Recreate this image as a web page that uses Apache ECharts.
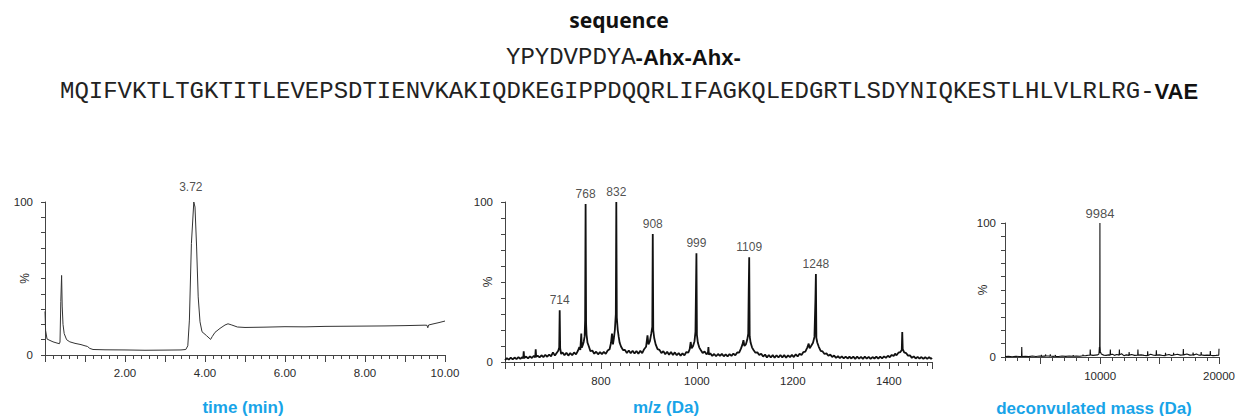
<!DOCTYPE html>
<html>
<head>
<meta charset="utf-8">
<script src="https://cdn.jsdelivr.net/npm/echarts@6/dist/echarts.min.js"></script>
<style>
html,body{margin:0;padding:0;background:#fff;}
#chart{width:1238px;height:416px;}
</style>
</head>
<body>
<div id="chart"></div>
<script>
// ---------- text ----------
const headerTitle = 'sequence';
const tagMono = 'YPYDVPDYA';
const tagBold = '-Ahx-Ahx-';
const mainMono = 'MQIFVKTLTGKTITLEVEPSDTIENVKAKIQDKEGIPPDQQRLIFAGKQLEDGRTLSDYNIQKESTLHLVLRLRG-';
const mainBold = 'VAE';
const axisTitles = ['time (min)', 'm/z (Da)', 'deconvulated mass (Da)'];
const yAxisName = '%';

// ---------- chromatogram (time in min, % intensity) ----------
const chromTime = [0.00,0.015,0.05,0.10,0.20,0.30,0.36,0.375,0.395,0.415,0.43,0.45,0.48,0.54,0.62,0.75,0.90,1.00,1.06,1.12,
  1.20,1.50,2.00,2.50,3.00,3.40,3.52,3.57,3.61,3.66,3.72,3.75,3.79,3.83,3.875,3.925,4.04,4.14,4.18,4.25,
  4.375,4.50,4.575,4.67,4.81,5.00,5.50,6.00,6.50,7.00,7.50,8.00,8.50,9.00,9.50,9.55,9.57,9.59,9.70,9.85,10.00];
const chromPct = [28.5,16,10.5,9.8,8.6,7.8,7.4,8.5,35,52,32,20,14,10,8.6,7.6,6.8,6.0,5.6,4.3,
  3.6,3.4,3.3,3.1,3.2,3.3,3.6,6,22.8,72.8,100,96.7,70.6,38,21.7,15.2,12.6,10.2,12,14.8,
  17.4,19.6,20.4,19.6,18.3,18.0,18.2,18.5,18.4,18.7,18.8,18.9,19.0,19.2,19.5,19.4,17.8,19.6,20.3,21.2,22.2];
const chromPeakTime = [3.72];
const chromPeakPct = [100];
const chromPeakLabel = ['3.72'];

// ---------- ESI mass spectrum [m/z, %] ----------
const msSpectrum = [
  [600,1.2],[604,2.4],[608,1.5],[612,2.7],[616,1.6],[620,2.8],[624,1.8],[628,3.0],[632,2.0],[636,3.1],
  [638,2.2],[639,6.7],[640,2.4],[644,3.4],[648,2.2],[652,3.5],[656,2.5],[660,3.8],[663,2.8],[664,8.0],
  [665,3.2],[668,4.0],[672,2.9],[676,4.2],[680,3.1],[684,4.4],[688,3.3],[692,4.6],[696,3.6],[700,6.0],
  [704,4.0],[708,5.8],[711,7.0],[713,9.0],[714,32.4],[715,8.5],[717,5.0],[720,6.0],[724,4.2],[728,5.8],
  [732,4.0],[736,5.6],[740,4.2],[744,6.0],[748,4.8],[752,7.0],[755,9.4],[757,7.5],[759,17.8],[760,9.0],
  [762,10.5],[764,12.5],[766,16.0],[767,26.0],[768,98.7],[769,24.0],[770,17.0],[772,12.0],[775,9.5],[778,6.8],
  [782,7.2],[786,5.2],[790,6.4],[794,4.8],[798,6.2],[802,4.9],[806,6.3],[810,5.1],[814,7.2],[818,8.0],
  [821,12.0],[823,17.8],[825,11.0],[827,15.0],[829,20.0],[831,30.0],[832,100],[833,28.0],[835,20.0],[837,15.7],
  [839,12.0],[842,9.5],[846,7.5],[850,7.6],[854,5.6],[858,7.2],[862,5.5],[866,7.0],[870,5.3],[874,6.9],
  [878,5.2],[882,7.0],[886,5.6],[890,8.0],[894,9.5],[897,16.7],[899,11.0],[902,13.0],[905,18.0],[907,22.0],
  [908,80.0],[909,20.0],[911,15.0],[914,11.0],[918,8.0],[922,7.6],[926,5.6],[930,6.8],[934,4.8],[938,6.4],
  [942,4.6],[946,6.2],[950,4.4],[954,6.0],[958,4.2],[962,5.6],[966,4.0],[970,5.4],[974,4.2],[978,6.2],
  [982,5.8],[985,8.0],[987,12.5],[989,8.5],[992,10.0],[995,13.0],[997,18.8],[999,68.0],[1000,17.0],[1002,12.0],
  [1005,9.0],[1008,7.5],[1012,5.6],[1016,6.6],[1020,4.8],[1023,5.8],[1024,9.4],[1025,4.6],[1028,5.4],[1032,3.8],
  [1036,5.0],[1040,3.6],[1044,5.0],[1048,3.8],[1052,5.1],[1056,3.6],[1060,4.8],[1064,3.5],[1068,4.9],[1072,3.8],
  [1076,5.2],[1080,4.2],[1084,6.0],[1088,5.8],[1092,8.5],[1095,11.0],[1097,13.6],[1099,10.0],[1102,11.0],[1105,14.0],
  [1107,17.8],[1108,45.0],[1109,65.5],[1110,16.0],[1112,12.0],[1115,9.0],[1118,7.5],[1122,5.8],[1126,6.0],[1130,4.4],
  [1134,5.2],[1138,3.4],[1142,4.6],[1146,2.9],[1150,4.4],[1154,2.8],[1158,4.3],[1162,2.7],[1166,4.2],[1170,2.8],
  [1174,4.4],[1178,2.9],[1182,4.3],[1186,2.7],[1190,4.2],[1194,3.0],[1198,4.4],[1202,3.1],[1206,4.8],[1210,3.5],
  [1214,5.2],[1218,4.4],[1222,6.2],[1226,6.5],[1230,9.0],[1233,11.5],[1235,8.5],[1238,10.0],[1242,12.0],[1245,15.7],
  [1247,38.7],[1248,55.0],[1249,15.0],[1251,12.0],[1254,9.5],[1258,7.0],[1262,6.6],[1266,5.0],[1270,5.4],[1274,3.9],
  [1278,4.6],[1282,3.2],[1286,4.0],[1290,2.6],[1294,3.6],[1298,2.4],[1302,3.5],[1306,2.3],[1310,3.4],[1314,2.2],
  [1318,3.3],[1322,2.2],[1326,3.4],[1330,2.0],[1334,3.3],[1338,2.1],[1342,3.2],[1346,2.0],[1350,3.3],[1354,2.1],
  [1358,3.2],[1362,2.0],[1366,3.1],[1370,2.2],[1374,3.3],[1378,2.1],[1382,3.4],[1386,2.3],[1390,3.5],[1394,2.6],
  [1398,3.9],[1402,3.0],[1406,4.4],[1410,3.8],[1413,5.2],[1416,4.2],[1420,5.8],[1424,6.2],[1427,7.5],[1428,18.8],
  [1429,8.0],[1432,6.0],[1436,5.6],[1440,4.0],[1444,4.2],[1448,2.6],[1452,3.5],[1456,2.2],[1460,3.2],[1464,2.1],
  [1468,3.1],[1472,2.0],[1476,3.0],[1480,1.9],[1484,3.0],[1488,2.0],[1490,2.6]
];
const msPeakMz = [714, 768, 832, 908, 999, 1109, 1248];
const msPeakPct = [32.4, 98.7, 100, 80, 68, 65.5, 55];

// ---------- deconvoluted spectrum [mass, %] ----------
const deconvSpectrum = [
  [2000,0.3],[2300,0.5],[2600,0.2],[2900,0.6],[3200,0.4],[3390,0.5],[3410,7.5],[3430,0.4],[3700,0.6],[4000,0.3],
  [4300,0.7],[4600,0.4],[4900,0.8],[5040,0.5],[5060,1.6],[5080,0.5],[5300,0.7],[5390,0.6],[5410,1.9],[5430,0.7],
  [5650,0.8],[5790,0.6],[5810,2.0],[5830,0.7],[6050,0.5],[6220,0.7],[6240,1.5],[6260,0.5],[6500,0.4],[6800,0.7],
  [7100,0.5],[7400,0.8],[7720,0.6],[7740,1.4],[7760,0.6],[8000,0.8],[8300,0.6],[8540,0.9],[8560,1.7],[8580,0.9],
  [8800,1.0],[9000,1.3],[9150,1.4],[9170,5.5],[9190,1.6],[9400,1.2],[9600,1.4],[9800,1.6],[9900,2.2],[9940,7.5],
  [9960,3.0],[9975,30.5],[9984,100],[9995,8.0],[10020,4.0],[10100,2.2],[10300,1.4],[10500,1.2],[10700,1.6],[10840,1.4],
  [10860,5.5],[10880,1.8],[11050,2.0],[11200,1.2],[11400,1.8],[11600,1.4],[11620,5.5],[11640,1.6],[11800,2.4],[12000,1.0],
  [12200,1.6],[12420,1.2],[12440,3.7],[12460,1.4],[12650,1.8],[12900,1.2],[13160,1.3],[13180,5.5],[13200,1.4],[13450,1.6],
  [13700,1.2],[13980,1.0],[14000,4.2],[14020,1.2],[14250,2.0],[14500,1.3],[14710,1.2],[14730,5.0],[14750,1.4],[15000,1.6],
  [15250,1.1],[15480,1.0],[15500,3.2],[15520,1.3],[15800,1.9],[16000,1.2],[16160,1.3],[16180,3.2],[16200,1.5],[16500,2.0],
  [16750,1.4],[16980,1.5],[17000,6.0],[17020,1.6],[17300,2.2],[17550,1.4],[17800,1.5],[17820,3.3],[17840,1.4],[18100,2.3],
  [18300,1.4],[18480,1.3],[18500,3.7],[18520,1.6],[18750,1.2],[19000,1.4],[19250,1.2],[19270,4.5],[19290,1.3],[19500,1.0],
  [19750,1.2],[19980,1.4],[20000,6.2]
];
const deconvPeakMass = [9984];
const deconvPeakPct = [100];

// ---------- tick label sets ----------
const chromTickLabels = [2, 4, 6, 8, 10];
const msTickLabels = [800, 1000, 1200, 1400];
const deconvTickLabels = [10000, 20000];
const deconvMajorTicks = [5000, 10000, 15000, 20000];
const pctTickLabels = [0, 100];

// ---------- chart ----------
const AX = '#444';
const LBL = '#2a2a2a';
const BLUE = '#18a4e8';
const FONT = '"Liberation Sans", Arial, sans-serif';

function yAxisFor(gridIndex, nameGap, margin) {
  return {
    type: 'value', gridIndex: gridIndex, min: 0, max: 100, interval: 10,
    name: yAxisName, nameLocation: 'middle', nameGap: nameGap, nameRotate: 90, nameMoveOverlap: false,
    nameTextStyle: { color: LBL, fontSize: 12, fontFamily: FONT },
    axisLine: { show: true, lineStyle: { color: AX, width: 1 } },
    axisTick: { show: true, length: 4, lineStyle: { color: AX } },
    splitLine: { show: false },
    axisLabel: { color: LBL, fontSize: 11.5, fontFamily: FONT, margin: margin,
      formatter: v => pctTickLabels.includes(v) ? String(v) : '' }
  };
}

const labelStyle = { show: true, position: 'top', color: '#222', fontSize: 12, fontFamily: FONT };
const monoStyle = { fontFamily: '"Liberation Mono", monospace', fontWeight: 'normal', fontSize: 24, color: '#222', verticalAlign: 'middle' };
const boldStyle = { fontFamily: FONT, fontWeight: 'bold', fontSize: 22, color: '#111', verticalAlign: 'middle' };

const option = {
  animation: false,
  backgroundColor: '#fff',
  title: [
    { text: headerTitle, left: 'center', top: 9, padding: 0,
      textStyle: { fontFamily: '"Noto Sans", sans-serif', fontWeight: 'bold', fontSize: 21, color: '#111' } },
    { text: '{m|' + tagMono + '}{b|' + tagBold + '}', left: 506, top: 45, padding: 0,
      textStyle: { fontWeight: 'normal', rich: { m: monoStyle, b: boldStyle } } },
    { text: '{m|' + mainMono + '}{b|' + mainBold + '}', left: 60, top: 79, padding: 0,
      textStyle: { fontWeight: 'normal', rich: { m: monoStyle, b: boldStyle } } }
  ],
  graphic: [
    { type: 'text', x: 243, y: 407, style: { text: axisTitles[0], font: 'bold 17px ' + FONT, fill: BLUE, textAlign: 'center', textVerticalAlign: 'middle', align: 'center', verticalAlign: 'middle' } },
    { type: 'text', x: 666, y: 407, style: { text: axisTitles[1], font: 'bold 17px ' + FONT, fill: BLUE, textAlign: 'center', textVerticalAlign: 'middle', align: 'center', verticalAlign: 'middle' } },
    { type: 'text', x: 1094, y: 408, style: { text: axisTitles[2], font: 'bold 17px ' + FONT, fill: BLUE, textAlign: 'center', textVerticalAlign: 'middle', align: 'center', verticalAlign: 'middle' } }
  ],
  grid: [
    { left: 45, top: 202, width: 400, height: 153 },
    { left: 505, top: 202, width: 427, height: 160 },
    { left: 1005, top: 223, width: 220, height: 134 }
  ],
  xAxis: [
    { type: 'value', gridIndex: 0, min: 0, max: 10, interval: 1,
      axisLine: { show: true, onZero: false, lineStyle: { color: AX, width: 1 } },
      axisTick: { show: true, length: 7, lineStyle: { color: AX } },
      minorTick: { show: true, splitNumber: 5, length: 4, lineStyle: { color: AX } },
      splitLine: { show: false }, minorSplitLine: { show: false },
      axisLabel: { color: LBL, fontSize: 11.5, fontFamily: FONT, margin: 12,
        formatter: v => chromTickLabels.includes(v) ? v.toFixed(2) : '' } },
    { type: 'value', gridIndex: 1, min: 600, max: 1490, interval: 100,
      axisLine: { show: true, onZero: false, lineStyle: { color: AX, width: 1 } },
      axisTick: { show: true, length: 7, lineStyle: { color: AX } },
      minorTick: { show: true, splitNumber: 5, length: 4, lineStyle: { color: AX } },
      splitLine: { show: false }, minorSplitLine: { show: false },
      axisLabel: { color: LBL, fontSize: 11.5, fontFamily: FONT, margin: 13,
        formatter: v => msTickLabels.includes(v) ? String(v) : '' } },
    { type: 'value', gridIndex: 2, min: 2000, max: 20000, interval: 1000,
      axisLine: { show: true, onZero: false, lineStyle: { color: AX, width: 1 } },
      axisTick: { show: true, length: 4, lineStyle: { color: AX } },
      splitLine: { show: false },
      axisLabel: { color: LBL, fontSize: 11.5, fontFamily: FONT, margin: 13,
        formatter: v => deconvTickLabels.includes(v) ? String(v) : '' } },
    { type: 'value', gridIndex: 2, min: 2000, max: 20000, position: 'bottom',
      axisLine: { show: false, onZero: false },
      axisTick: { show: true, length: 7, lineStyle: { color: AX }, customValues: deconvMajorTicks },
      axisLabel: { show: false }, splitLine: { show: false } }
  ],
  yAxis: [ yAxisFor(0, 14, 12), yAxisFor(1, 11, 12), yAxisFor(2, 16, 9) ],
  series: [
    { type: 'line', xAxisIndex: 0, yAxisIndex: 0, symbol: 'none', silent: true,
      data: chromTime.map((t, i) => [t, chromPct[i]]),
      lineStyle: { color: '#333', width: 1 } },
    { type: 'scatter', xAxisIndex: 0, yAxisIndex: 0, symbolSize: 0, silent: true,
      data: chromPeakTime.map((t, i) => ({ value: [t, chromPeakPct[i]], name: chromPeakLabel[i] })),
      label: Object.assign({}, labelStyle, { distance: 9, offset: [-3, 0], formatter: p => p.name }) },
    { type: 'line', xAxisIndex: 1, yAxisIndex: 1, symbol: 'none', silent: true,
      data: msSpectrum,
      lineStyle: { color: '#111', width: 1.8 } },
    { type: 'scatter', xAxisIndex: 1, yAxisIndex: 1, symbolSize: 0, silent: true,
      data: msPeakMz.map((m, i) => ({ value: [m, msPeakPct[i]], name: String(m) })),
      label: Object.assign({}, labelStyle, { distance: 4, formatter: p => p.name }) },
    { type: 'line', xAxisIndex: 2, yAxisIndex: 2, symbol: 'none', silent: true,
      data: deconvSpectrum,
      lineStyle: { color: '#111', width: 1.1 } },
    { type: 'scatter', xAxisIndex: 2, yAxisIndex: 2, symbolSize: 0, silent: true,
      data: deconvPeakMass.map((m, i) => ({ value: [m, deconvPeakPct[i]], name: String(m) })),
      label: Object.assign({}, labelStyle, { distance: 3, fontSize: 13, formatter: p => p.name }) }
  ]
};

const chart = echarts.init(document.getElementById('chart'), null, { renderer: 'svg' });
chart.setOption(option);
</script>
</body>
</html>
